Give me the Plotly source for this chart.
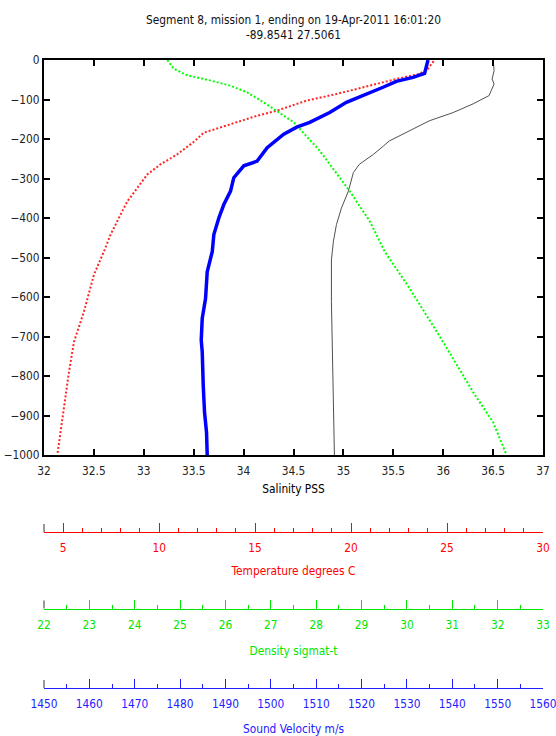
import plotly.graph_objects as go

# ---- data ----
# Salinity (PSS) vs depth
sal_depth = [0, 27, 48, 61, 78, 90, 111, 133, 154, 179, 205, 218, 239, 264, 285, 332, 375, 417, 459, 506, 536, 612, 739, 866, 1000]
salinity = [36.50, 36.51, 36.49, 36.51, 36.48, 36.46, 36.30, 36.10, 35.86, 35.66, 35.46, 35.40, 35.30, 35.16, 35.10, 35.05, 34.98, 34.93, 34.90, 34.88, 34.88, 34.88, 34.89, 34.90, 34.91]

# Temperature (deg C) vs depth
temp_depth = [3, 22, 35, 48, 65, 86, 103, 120, 128, 141, 162, 184, 207, 239, 264, 290, 324, 358, 400, 442, 485, 544, 637, 714, 790, 875, 943, 998]
temperature = [24.3, 24.01, 23.57, 22.36, 20.97, 19.24, 17.67, 16.63, 16.15, 15.11, 13.72, 12.33, 11.81, 10.94, 10.07, 9.38, 8.86, 8.34, 7.90, 7.47, 7.12, 6.60, 6.08, 5.56, 5.30, 5.04, 4.87, 4.70]

# Density sigma-t vs depth
dens_depth = [0, 22, 39, 50, 65, 82, 107, 133, 158, 230, 332, 408, 485, 578, 714, 841, 917, 998]
density = [24.72, 24.86, 25.16, 25.60, 26.11, 26.48, 26.84, 27.18, 27.51, 28.08, 28.74, 29.18, 29.51, 30.06, 30.80, 31.46, 31.90, 32.19]

# Sound velocity (m/s) vs depth
sv_depth = [0, 18, 34, 44, 54, 69, 90, 107, 133, 158, 170, 188, 222, 256, 268, 298, 332, 366, 400, 442, 485, 536, 604, 654, 709, 739, 824, 892, 943, 1000]
sound_velocity = [1534.65, 1534.28, 1533.90, 1531.35, 1527.67, 1524.74, 1520.34, 1516.66, 1512.98, 1508.58, 1505.7, 1502.85, 1499.20, 1496.99, 1494.04, 1491.84, 1491.12, 1489.64, 1488.54, 1487.44, 1487.09, 1485.98, 1485.61, 1484.88, 1484.66, 1484.88, 1485.10, 1485.39, 1485.83, 1485.98]

title_lines = ["Segment 8, mission 1, ending on 19-Apr-2011 16:01:20", "-89.8541 27.5061"]

FONT = "DejaVu Sans Condensed, Liberation Sans Narrow, Liberation Sans, sans-serif"
RED = "#ff0000"
GREEN = "#00e600"
BLUE = "#2020ff"

W, H = 556, 736
M_T, M_B, M_L, M_R = 60, 48, 44, 13
paper_h = H - M_T - M_B

def pos(py):
    return (H - M_B - py) / paper_h

main_bottom = pos(455)
axis_px = {"x2": 532, "x3": 608.5, "x4": 688}

fig = go.Figure()

fig.add_trace(go.Scatter(x=temperature, y=[-d for d in temp_depth], xaxis="x2", yaxis="y",
                         mode="lines", line=dict(color=RED, width=2, dash="2px,2px"),
                         opacity=0.85, showlegend=False, name="Temperature"))
fig.add_trace(go.Scatter(x=density, y=[-d for d in dens_depth], xaxis="x3", yaxis="y",
                         mode="lines", line=dict(color="#00ff00", width=2, dash="2px,2px"),
                         showlegend=False, name="Density"))
fig.add_trace(go.Scatter(x=salinity, y=[-d for d in sal_depth], xaxis="x", yaxis="y",
                         mode="lines", line=dict(color="#505050", width=1),
                         showlegend=False, name="Salinity"))
fig.add_trace(go.Scatter(x=sound_velocity, y=[-d for d in sv_depth], xaxis="x4", yaxis="y",
                         mode="lines", line=dict(color="#0000ff", width=3.5),
                         showlegend=False, name="Sound velocity"))

FS = 11.8
tickfont = dict(family=FONT, size=FS, color="#222222")

def free_axis(rng, dtick, minor_dtick, color, title, key, standoff, tickvals=None, tick0=None):
    d = dict(range=rng, overlaying="x", anchor="free", position=pos(axis_px[key]), side="bottom",
             showgrid=False, zeroline=False, automargin=False,
             showline=True, linecolor=color, linewidth=1, ticks="inside", ticklen=9,
             tickwidth=1, tickcolor=color, tickfont=dict(family=FONT, size=FS, color=color),
             minor=dict(dtick=minor_dtick, ticks="inside", ticklen=4, tickcolor=color, tickwidth=1),
             ticklabelstandoff=5, ticklabeloverflow="allow",
             title=dict(text=title, font=dict(family=FONT, size=FS, color=color), standoff=standoff))
    if tickvals is not None:
        d["tickvals"] = tickvals
        d["minor"]["tick0"] = rng[0]
    else:
        d["dtick"] = dtick
        d["tick0"] = tick0
    return d

fig.update_layout(
    width=W, height=H,
    margin=dict(t=M_T, b=M_B, l=M_L, r=M_R, autoexpand=False),
    paper_bgcolor="white", plot_bgcolor="white",
    font=dict(family=FONT, size=FS, color="black"),
    title=dict(text="<br>".join(title_lines), x=0.5, xref="paper", xanchor="center",
               y=1 - 24 / H, yref="container", yanchor="middle",
               font=dict(family=FONT, size=FS, color="#111111")),
    xaxis=dict(range=[32, 37], dtick=0.5, tick0=32, domain=[0, 1], anchor="y", automargin=False,
               showgrid=False, zeroline=False, showline=True, linecolor="black", linewidth=2,
               mirror="ticks", ticks="inside", ticklen=6, tickwidth=2, tickcolor="black",
               tickfont=tickfont, ticklabelstandoff=4, ticklabeloverflow="allow",
               title=dict(text="Salinity PSS", font=dict(family=FONT, size=FS), standoff=8)),
    yaxis=dict(range=[-1000, 0], dtick=100, domain=[main_bottom, 1], anchor="x", automargin=False,
               showgrid=False, zeroline=False, showline=True, linecolor="black", linewidth=2,
               mirror="ticks", ticks="inside", ticklen=6, tickwidth=2, tickcolor="black",
               tickfont=tickfont, ticklabelstandoff=0, ticklabeloverflow="allow"),
    xaxis2=free_axis([4, 30], None, 1, RED, "Temperature degrees C", "x2", 12,
                     tickvals=[5, 10, 15, 20, 25, 30]),
    xaxis3=free_axis([22, 33], 1, 0.5, GREEN, "Density sigmat-t", "x3", 16, tick0=22),
    xaxis4=free_axis([1450, 1560], 10, 5, BLUE, "Sound Velocity m/s", "x4", 16, tick0=1450),
)

# small grey stub at the left end of each auxiliary axis (as in the original MATLAB figure)
for key, py in axis_px.items():
    fig.add_shape(type="line", xref="paper", yref="paper", x0=0, x1=0,
                  y0=pos(py), y1=pos(py - 8), line=dict(color="#777777", width=1.5))

fig.write_html("out.html")
